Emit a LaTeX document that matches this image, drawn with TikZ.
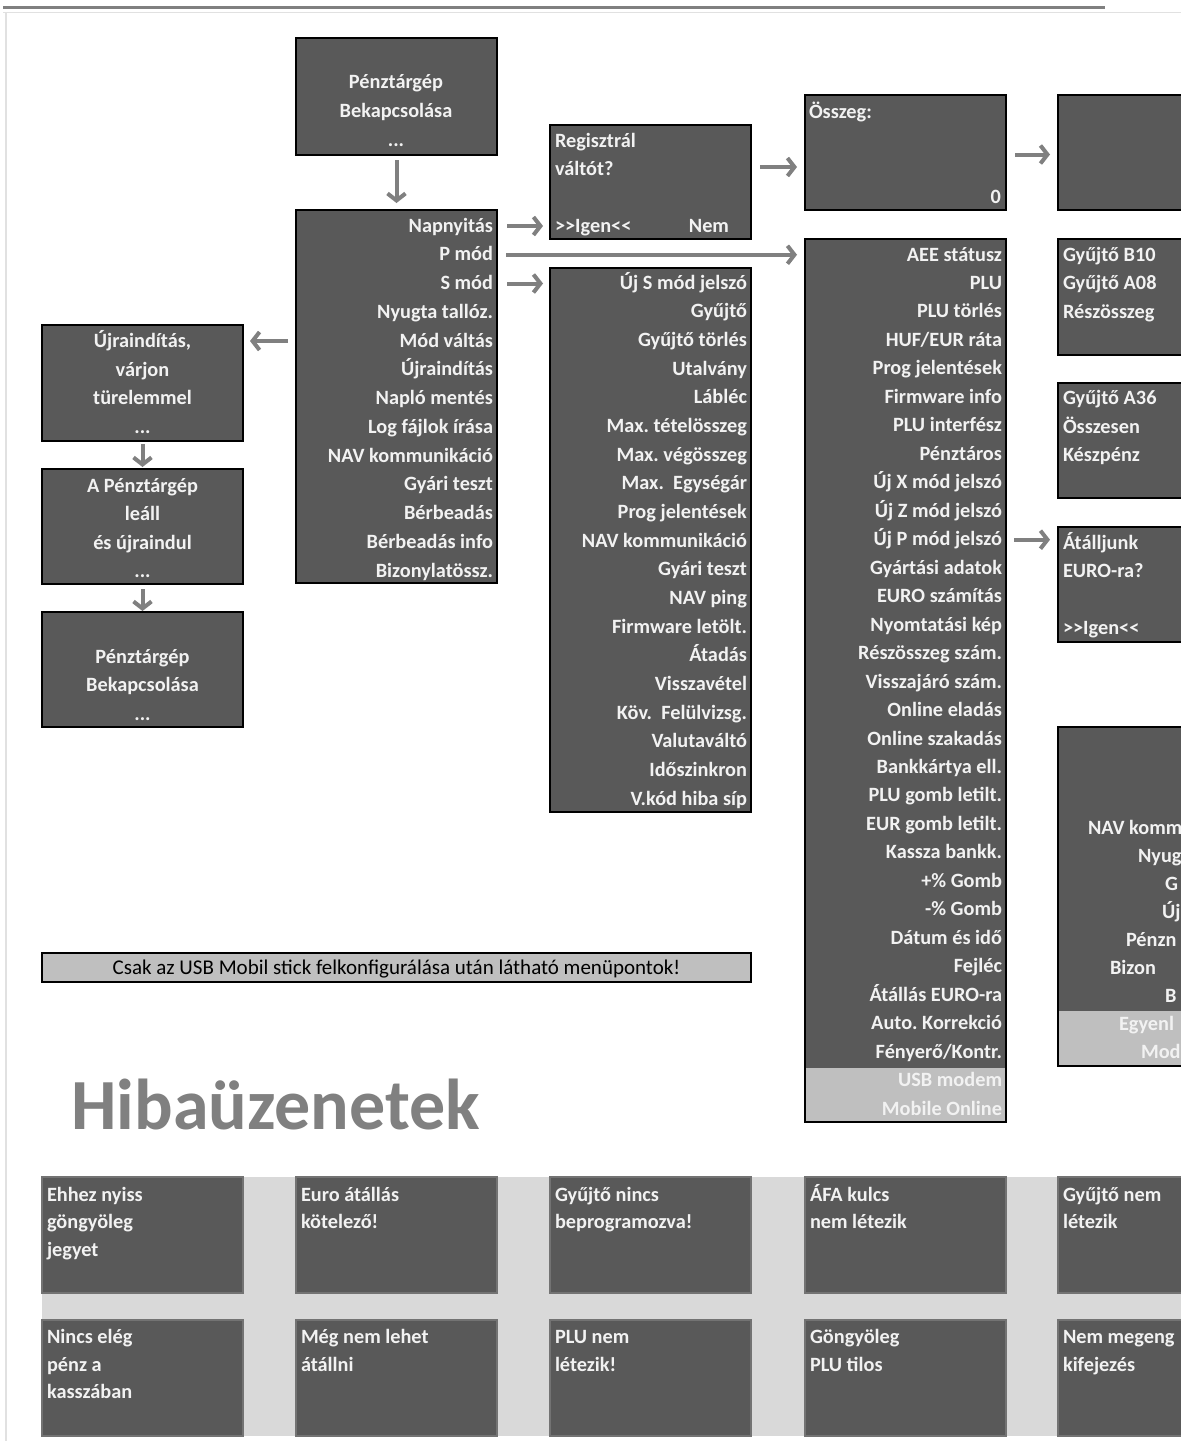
\documentclass[tikz,border=0pt]{standalone}
\usepackage{fontspec}
\setmainfont{Carlito}
\usetikzlibrary{arrows.meta}
\definecolor{boxfill}{RGB}{89,89,89}
\definecolor{bandfill}{RGB}{191,191,191}
\definecolor{arrowgray}{RGB}{128,128,128}
\definecolor{bgband}{RGB}{217,217,217}
\definecolor{errborder}{RGB}{115,115,115}
\definecolor{txt}{RGB}{242,242,242}
\definecolor{titlegray}{RGB}{128,128,128}
\definecolor{framegray}{RGB}{128,128,128}
\definecolor{faint}{RGB}{225,225,225}
\frenchspacing
\begin{document}
\begin{tikzpicture}[x=1pt,y=-1pt,
  box/.style={draw=black, line width=2.5pt, fill=boxfill, inner sep=0pt, outer sep=0pt, anchor=north west},
  errbox/.style={draw=errborder, line width=2pt, fill=boxfill, inner sep=0pt, outer sep=0pt, anchor=north west, minimum width=201pt, minimum height=116pt},
  item/.style={text=txt, font=\bfseries\fontsize{20.3}{24}\selectfont, inner sep=0pt, outer sep=0pt},
  ritem/.style={item, anchor=base east},
  litem/.style={item, anchor=base west},
  citem/.style={item, anchor=base},
  arr/.style={draw=arrowgray, line width=4pt, -{Straight Barb[length=7pt,width=18pt]}},
]
\useasboundingbox (0,0) rectangle (1181,1441);
\clip (0,0) rectangle (1181,1441);
\fill[white] (0,0) rectangle (1181,1441);
% frame lines
\draw[framegray, line width=3pt] (3,7) -- (1105,7);
\draw[faint, line width=1pt] (3,12) -- (1181,12);
\draw[faint, line width=1.5pt] (6,12) -- (6,1441);

% boxes
\node[box, minimum width=201pt, minimum height=117pt] (A) at (296,38) {};
\node[box, minimum width=201pt, minimum height=373pt] (B) at (296,210) {};
\node[box, minimum width=201pt, minimum height=114pt] (C) at (550,125) {};
\node[box, minimum width=201pt, minimum height=115pt] (D) at (805,95) {};
\node[box, minimum width=150pt, minimum height=115pt] (E) at (1058,95) {};
\node[box, minimum width=201pt, minimum height=544pt] (F) at (550,268) {};
\node[box, minimum width=201pt, minimum height=883pt] (G) at (805,239) {};
\node[box, minimum width=150pt, minimum height=116pt] (H) at (1058,239) {};
\node[box, minimum width=150pt, minimum height=115pt] (I) at (1058,383) {};
\node[box, minimum width=150pt, minimum height=115pt] (J) at (1058,527) {};
\node[box, minimum width=250pt, minimum height=339pt] (K) at (1058,727) {};
\node[box, minimum width=201pt, minimum height=116pt] (L1) at (42,325) {};
\node[box, minimum width=201pt, minimum height=115pt] (L2) at (42,469) {};
\node[box, minimum width=201pt, minimum height=115pt] (L3) at (42,612) {};

% light bands
\fill[bandfill] (805,1068) rectangle (1006,1122);
\draw[black, line width=2.5pt] (G.north west) rectangle (G.south east);
\fill[bandfill] (1058,1011) rectangle (1308,1066);
\draw[black, line width=2.5pt] (K.north west) rectangle (K.south east);

% box A
\node[citem] (a1) at (396,88) {Pénztárgép};
\node[citem] (a2) at (396,117) {Bekapcsolása};
\node[citem] (a3) at (396,146) {...};

% main menu B
\foreach \t [count=\i] in {Napnyitás,P mód,S mód,Nyugta tallóz.,Mód váltás,Újraindítás,Napló mentés,Log fájlok írása,NAV kommunikáció,Gyári teszt,Bérbeadás,Bérbeadás info,Bizonylatössz.}
  \node[ritem] (b\i) at (493,{232+(\i-1)*28.75}) {\t};

% box C
\node[litem] (c1) at (555,147) {Regisztrál};
\node[litem] (c2) at (555,175.5) {váltót?};
\node[litem] (c3) at (555,232) {>{}>Igen<{}<};
\node[ritem] (c4) at (729,232) {Nem};

% box D
\node[litem] (d1) at (809,118) {Összeg:};
\node[ritem] (d2) at (1001,203) {0};

% S menu F
\foreach \t [count=\i] in {Új S mód jelszó,Gyűjtő,Gyűjtő törlés,Utalvány,Lábléc,Max. tételösszeg,Max. végösszeg,Max.\ \ Egységár,Prog jelentések,NAV kommunikáció,Gyári teszt,NAV ping,Firmware letölt.,Átadás,Visszavétel,Köv.\ \ Felülvizsg.,Valutaváltó,Időszinkron,V.kód hiba síp}
  \node[ritem] (s\i) at (747,{289+(\i-1)*28.67}) {\t};

% P menu G
\foreach \t [count=\i] in {AEE státusz,PLU,PLU törlés,HUF/EUR ráta,Prog jelentések,Firmware info,PLU interfész,Pénztáros,Új X mód jelszó,Új Z mód jelszó,Új P mód jelszó,Gyártási adatok,EURO számítás,Nyomtatási kép,Részösszeg szám.,Visszajáró szám.,Online eladás,Online szakadás,Bankkártya ell.,PLU gomb letilt.,EUR gomb letilt.,Kassza bankk.,+\% Gomb,-\% Gomb,Dátum és idő,Fejléc,Átállás EURO-ra,Auto. Korrekció,Fényerő/Kontr.,USB modem,Mobile Online}
  \node[ritem] (g\i) at (1002,{261+(\i-1)*28.47}) {\t};

% H, I, J
\node[litem] (h1) at (1063,261) {Gyűjtő B10};
\node[litem] (h2) at (1063,289.5) {Gyűjtő A08};
\node[litem] (h3) at (1063,318) {Részösszeg};
\node[litem] (i1) at (1063,404.5) {Gyűjtő A36};
\node[litem] (i2) at (1063,433) {Összesen};
\node[litem] (i3) at (1063,461.5) {Készpénz};
\node[litem] (j1) at (1063,549) {Átálljunk};
\node[litem] (j2) at (1063,577.5) {EURO-ra?};
\node[litem] (j3) at (1063,634.5) {>{}>Igen<{}<};

% K (clipped)
\foreach \t/\x [count=\i] in {NAV komm/1088,Nyug/1138,G/1165,Új/1162,Pénzn/1126,Bizon/1110,B/1165,Egyenl/1119,Mod/1141}
  \node[litem] (k\i) at (\x,{834+(\i-1)*28.1}) {\t};

% left column
\node[citem] (l1a) at (142.5,347) {Újraindítás,};
\node[citem] (l1b) at (142.5,376) {várjon};
\node[citem] (l1c) at (142.5,404.5) {türelemmel};
\node[citem] (l1d) at (142.5,433) {...};
\node[citem] (l2a) at (142.5,492) {A Pénztárgép};
\node[citem] (l2b) at (142.5,520.5) {leáll};
\node[citem] (l2c) at (142.5,549) {és újraindul};
\node[citem] (l2d) at (142.5,577.5) {...};
\node[citem] (l3a) at (142.5,663) {Pénztárgép};
\node[citem] (l3b) at (142.5,691.5) {Bekapcsolása};
\node[citem] (l3c) at (142.5,720) {...};

% arrows
\coordinate (pa) at ([yshift=6pt]b1.base east);
\coordinate (pp) at ([yshift=6pt]b2.base east);
\coordinate (ps) at ([yshift=6pt]b3.base east);
\coordinate (pm) at ([yshift=6pt]b5.base east);
\coordinate (pg) at ([yshift=6pt]g11.base east);
\coordinate (pc) at ([yshift=15pt]C.east);
\coordinate (pd) at ([yshift=-2pt]D.east);
\draw[arr, shorten <=5pt, shorten >=7pt] (A.south) -- (B.north);
\draw[arr, shorten <=10pt, shorten >=7pt] (B.east |- pa) -- (C.west |- pa);
\draw[arr, shorten <=9pt, shorten >=8pt] (B.east |- pp) -- (G.west |- pp);
\draw[arr, shorten <=10pt, shorten >=7pt] (B.east |- ps) -- (F.west |- ps);
\draw[arr, shorten <=8pt, shorten >=7pt] (B.west |- pm) -- (L1.east |- pm);
\draw[arr, shorten <=9pt, shorten >=8pt] (pc) -- (D.west |- pc);
\draw[arr, shorten <=9pt, shorten >=8pt] (pd) -- (E.west |- pd);
\draw[arr, shorten <=8pt, shorten >=8pt] (G.east |- pg) -- (J.west |- pg);
\draw[arr, shorten <=3pt, shorten >=2pt] (L1.south) -- (L2.north);
\draw[arr, shorten <=5pt, shorten >=1pt] (L2.south) -- (L3.north);

% banner
\node[draw=black, line width=2.5pt, fill=bandfill, inner sep=0pt, outer sep=0pt, anchor=north west, minimum width=709pt, minimum height=29pt] (note) at (42,953) {};
\node[anchor=base, inner sep=0pt, font=\fontsize{21}{24}\selectfont, text=black] (notetxt) at (396.5,974) {Csak az USB Mobil stick felkonfigurálása után látható menüpontok!};

% title
\node[anchor=base west, inner sep=0pt, font=\bfseries\fontsize{72}{80}\selectfont, text=titlegray] (title) at (71,1129) {Hibaüzenetek};

% error messages
\node[fill=bgband, inner sep=0pt, outer sep=0pt, anchor=north west, minimum width=1139pt, minimum height=259pt] (errbg) at (42,1177) {};
\foreach \x [count=\i] in {42,296,550,805,1058} {
  \node[errbox] (e\i) at (\x,1177) {};
  \node[errbox] (f\i) at (\x,1320) {};
}
\node[litem] (e1a) at (47,1201) {Ehhez nyiss};
\node[litem] (e1b) at (47,1228.5) {göngyöleg};
\node[litem] (e1c) at (47,1256) {jegyet};
\node[litem] (e2a) at (301,1201) {Euro átállás};
\node[litem] (e2b) at (301,1228.5) {kötelező!};
\node[litem] (e3a) at (555,1201) {Gyűjtő nincs};
\node[litem] (e3b) at (555,1228.5) {beprogramozva!};
\node[litem] (e4a) at (810,1201) {ÁFA kulcs};
\node[litem] (e4b) at (810,1228.5) {nem létezik};
\node[litem] (e5a) at (1063,1201) {Gyűjtő nem};
\node[litem] (e5b) at (1063,1228.5) {létezik};
\node[litem] (f1a) at (47,1343.5) {Nincs elég};
\node[litem] (f1b) at (47,1371) {pénz a};
\node[litem] (f1c) at (47,1398.5) {kasszában};
\node[litem] (f2a) at (301,1343.5) {Még nem lehet};
\node[litem] (f2b) at (301,1371) {átállni};
\node[litem] (f3a) at (555,1343.5) {PLU nem};
\node[litem] (f3b) at (555,1371) {létezik!};
\node[litem] (f4a) at (810,1343.5) {Göngyöleg};
\node[litem] (f4b) at (810,1371) {PLU tilos};
\node[litem] (f5a) at (1063,1343.5) {Nem megeng};
\node[litem] (f5b) at (1063,1371) {kifejezés};
\end{tikzpicture}
\end{document}
